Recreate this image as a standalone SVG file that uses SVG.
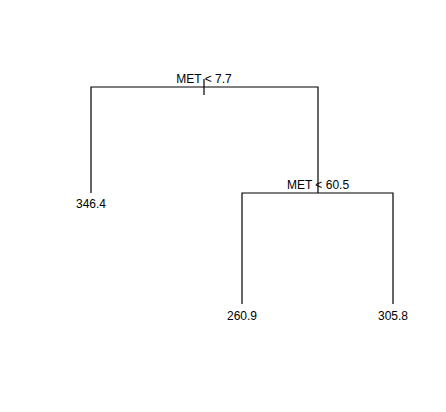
<svg xmlns="http://www.w3.org/2000/svg" width="446" height="412" viewBox="0 0 446 412">
<style>
.l{stroke:#000;stroke-width:1.2;fill:none}
text{font-family:"Liberation Sans",Arial,sans-serif;font-size:12px;fill:#000;text-anchor:middle}
</style>
<rect width="446" height="412" fill="#fff"/>
<g id="connectors">
<path class="l" d="M91,193V87H318V193"/>
<path class="l" d="M204,79V95"/>
<path class="l" d="M242,304V193H393V304"/>
</g>
<g id="split1"><text x="204" y="83">MET &lt; 7.7</text></g>
<g id="split2"><text x="318" y="189">MET &lt; 60.5</text></g>
<g id="leaf1"><text x="91" y="208">346.4</text></g>
<g id="leaf2"><text x="242" y="320">260.9</text></g>
<g id="leaf3"><text x="393" y="320">305.8</text></g>
</svg>
